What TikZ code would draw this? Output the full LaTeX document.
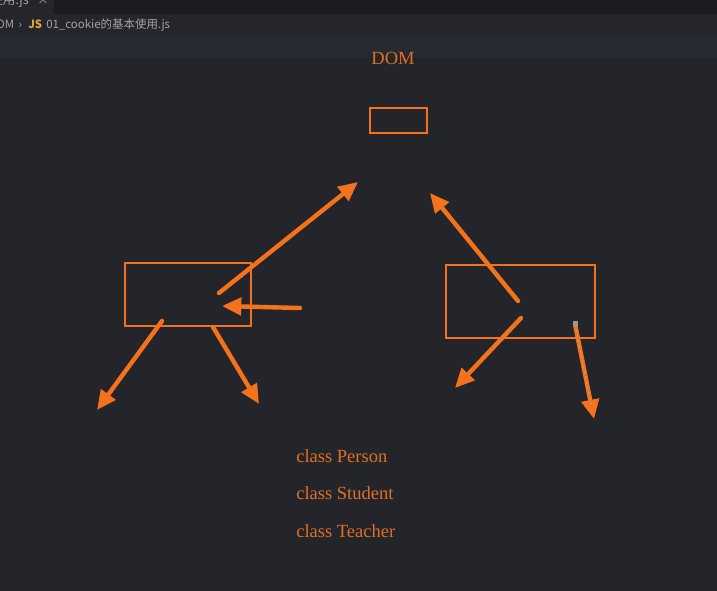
\documentclass[tikz,border=0pt]{standalone}
\usepackage{fontspec}
\setmainfont{Liberation Serif}
\newfontfamily\cjk{Noto Sans CJK SC}
\usetikzlibrary{arrows.meta,calc}
\definecolor{editorbg}{RGB}{35,37,43}
\definecolor{tabbar}{RGB}{27,28,32}
\definecolor{tabactive}{RGB}{36,38,44}
\definecolor{crumbbg}{RGB}{36,38,44}
\definecolor{linehl}{RGB}{40,42,49}
\definecolor{crumbtxt}{RGB}{160,163,170}
\definecolor{jsyellow}{RGB}{222,165,60}
\definecolor{pen}{RGB}{245,114,28}
\definecolor{inkt}{RGB}{226,110,38}
\tikzset{
  box/.style={draw=pen, line width=1.9pt, minimum width=#1, inner sep=0pt, outer sep=0pt},
  stroke/.style={draw=pen, line width=3.3pt, line cap=round,
    -{Triangle[length=14.5pt,width=13pt]}},
  label/.style={text=inkt, font=\fontsize{13.9pt}{16pt}\selectfont, inner sep=0pt, anchor=base west},
  crumb/.style={text=crumbtxt, font=\cjk\fontsize{8.6pt}{11pt}\selectfont, anchor=base west, inner sep=0pt},
}
\begin{document}
\begin{tikzpicture}[x=0.75pt,y=-0.75pt]
\useasboundingbox (0,0) rectangle (717,591);
% backgrounds
\fill[editorbg] (0,0) rectangle (717,591);
\fill[tabbar] (0,0) rectangle (717,14);
\fill[tabactive] (0,0) rectangle (54,14);
\fill[crumbbg] (0,14) rectangle (717,34);
\fill[linehl] (0,34) rectangle (717,57);
% tab & breadcrumb texts
\node[crumb, font=\cjk\fontsize{9.5pt}{11pt}\selectfont] (tab) at (-10,5) {使用.js};
\node[crumb] (tabx) at (37,5) {×};
\node[crumb] (crumb1) at (-4,29) {OM \,›};
\node[text=jsyellow, font=\cjk\bfseries\fontsize{8.5pt}{11pt}\selectfont, anchor=base west, inner sep=0pt] (jsicon) at (28,29) {JS};
\node[crumb] (crumb2) at (46,29) {01\_cookie的基本使用.js};
% title
\node[text=inkt, font=\fontsize{13.9pt}{16pt}\selectfont, inner sep=0pt] (dom) at (393,58) {DOM};
% boxes
\node[box=57*0.75pt, minimum height=25*0.75pt] (top) at (398.5,120.5) {};
\node[box=126*0.75pt, minimum height=63*0.75pt] (left) at (188,294.5) {};
\node[box=149*0.75pt, minimum height=73*0.75pt] (right) at (520.5,301.5) {};
% arrow end points
\coordinate (a1s) at (219,293);  \coordinate (a1e) at (358,182);
\coordinate (a2s) at (300,308);  \coordinate (a2e) at (222,306);
\coordinate (a3s) at (162,321);  \coordinate (a3e) at (97,410);
\coordinate (a4s) at (213,327);  \coordinate (a4e) at (259,404);
\coordinate (a5s) at (518,301);  \coordinate (a5e) at (430,193);
\coordinate (a6s) at (521,318);  \coordinate (a6e) at (455,388);
\coordinate (a7s) at (575,324);  \coordinate (a7e) at (594,419);
\coordinate (a7m) at ($(a7s)!0.85!(a7e)$);
\draw[stroke] (a1s) -- (a1e);
\draw[stroke] (a2s) -- (a2e);
\draw[stroke] (a3s) -- (a3e);
\draw[stroke] (a4s) -- (a4e);
\draw[stroke] (a5s) -- (a5e);
\draw[stroke] (a6s) -- (a6e);
\draw[stroke] (a7s) -- (a7e);
% selection overlay on the last stroke
\draw[gray!70, line width=0.6pt, dash pattern=on 2pt off 2pt] (a7s) -- (a7m);
\fill[gray!80] ($(a7s)+(-2.5,-2.5)$) rectangle ($(a7s)+(2.5,2.5)$);
% class labels
\node[label] (person) at (296,462) {class Person};
\node[label] (student) at (296,499) {class Student};
\node[label] (teacher) at (296,537) {class Teacher};
\end{tikzpicture}
\end{document}
